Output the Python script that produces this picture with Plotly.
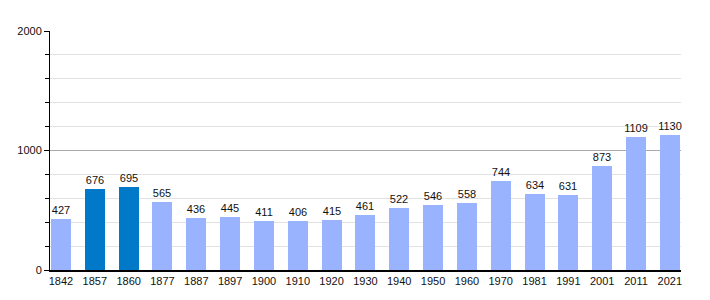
import plotly.graph_objects as go

years = ["1842", "1857", "1860", "1877", "1887", "1897", "1900", "1910", "1920", "1930",
         "1940", "1950", "1960", "1970", "1981", "1991", "2001", "2011", "2021"]
population = [427, 676, 695, 565, 436, 445, 411, 406, 415, 461,
              522, 546, 558, 744, 634, 631, 873, 1109, 1130]
highlight = ["1857", "1860"]

light = "#99b3ff"
dark = "#0079c9"
colors = [dark if y in highlight else light for y in years]
xpos = list(range(len(years)))

fig = go.Figure()
fig.add_trace(go.Bar(
    x=xpos, y=population, marker_color=colors, marker_line_width=0,
    width=0.59, text=[str(v) for v in population], textposition="outside",
    constraintext="none",
    textfont=dict(family="Liberation Sans, Arial", size=11, color="#111"),
    cliponaxis=False, hoverinfo="skip",
))

fig.update_layout(
    width=710, height=300,
    margin=dict(l=50, r=29, t=31, b=30),
    plot_bgcolor="white", paper_bgcolor="white",
    showlegend=False,
    font=dict(family="Liberation Sans, Arial", size=11, color="#111"),
    xaxis=dict(
        range=[-0.325, 18.33], tickvals=xpos, ticktext=years,
        showgrid=False, zeroline=False, showline=True, linecolor="black", linewidth=2,
        ticks="", tickfont=dict(size=11, color="#111"),
    ),
    yaxis=dict(
        range=[0, 2000], tickvals=[0, 1000, 2000],
        showgrid=True, gridcolor="#aaaaaa", gridwidth=1, zeroline=False,
        showline=True, linecolor="black", linewidth=1,
        ticks="outside", ticklen=5, tickcolor="black", tickwidth=1,
        tickfont=dict(size=11, color="#111"),
        minor=dict(dtick=200, showgrid=True, gridcolor="#e2e2e2", gridwidth=1,
                   ticks="outside", ticklen=4, tickcolor="black"),
    ),
    bargap=0,
)

fig.write_html("out.html")
